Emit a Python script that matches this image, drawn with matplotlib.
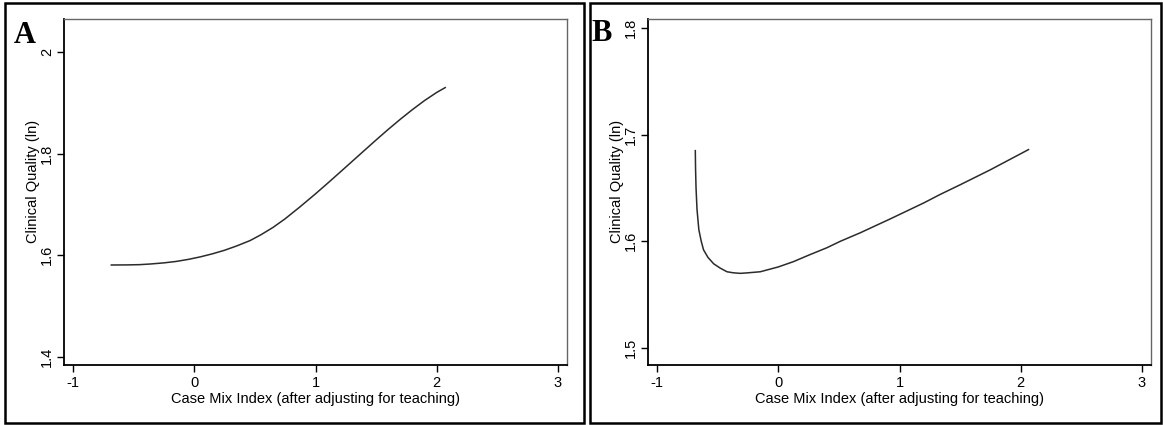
import matplotlib
matplotlib.use("Agg")
import matplotlib.pyplot as plt
from matplotlib.patches import Rectangle

plt.rcParams["font.family"] = ["Liberation Sans", "DejaVu Sans"]

# 曲线数据
CMI_A = [-0.684, -0.55, -0.45, -0.36, -0.25, -0.15, -0.05, 0.05, 0.15, 0.25, 0.35,
         0.46, 0.55, 0.65, 0.75, 0.87, 1.0, 1.1, 1.2, 1.29, 1.4, 1.5, 1.6, 1.7,
         1.8, 1.9, 2.0, 2.07]
QUAL_A = [1.5810, 1.5812, 1.5817, 1.5830, 1.5852, 1.5880, 1.5920, 1.5970, 1.6030, 1.6100, 1.6185,
          1.6290, 1.6405, 1.6550, 1.6720, 1.6950, 1.7210, 1.7418, 1.7630, 1.7822, 1.8057, 1.8270, 1.8478, 1.8678,
          1.8868, 1.9046, 1.9205, 1.9300]

CMI_B = [-0.684, -0.682, -0.678, -0.67, -0.655, -0.635, -0.616, -0.58, -0.533, -0.48,
         -0.423, -0.37, -0.313, -0.25, -0.148, 0.0, 0.126, 0.25, 0.401, 0.511,
         0.676, 0.923, 1.2, 1.336, 1.5, 1.748, 2.064]
QUAL_B = [1.685, 1.668, 1.650, 1.630, 1.611, 1.600, 1.592, 1.585, 1.579, 1.575,
          1.5715, 1.5705, 1.570, 1.5705, 1.5715, 1.576, 1.581, 1.587, 1.594, 1.600,
          1.608, 1.621, 1.636, 1.644, 1.653, 1.667, 1.686]

X_TICKS = [-1, 0, 1, 2, 3]
Y_TICKS_A = [1.4, 1.6, 1.8, 2.0]
Y_TICK_LABELS_A = ["1.4", "1.6", "1.8", "2"]
Y_TICKS_B = [1.5, 1.6, 1.7, 1.8]
Y_TICK_LABELS_B = ["1.5", "1.6", "1.7", "1.8"]

XLABEL = "Case Mix Index (after adjusting for teaching)"
YLABEL = "Clinical Quality (ln)"

W, H = 1163, 425
fig = plt.figure(figsize=(W / 100, H / 100), dpi=100)


def px_box(x0, y0, x1, y1):
    # 像素坐标 -> figure 比例坐标
    return [x0 / W, 1 - y1 / H, (x1 - x0) / W, (y1 - y0) / H]


def draw_panel(rect, xs, ys, ylim, yticks, yticklabels, ylabel_xy, letter, letter_xy):
    ax = fig.add_axes(rect)
    ax.plot(xs, ys, color="#2b2b2b", linewidth=1.1)
    ax.set_xlim(-1.0742, 3.0742)
    ax.set_ylim(*ylim)
    ax.set_xticks(X_TICKS)
    ax.set_xticklabels([str(t) for t in X_TICKS], fontsize=10.5)
    ax.set_yticks(yticks)
    ax.set_yticklabels(yticklabels, fontsize=10.5, rotation=90, va="center")
    ax.tick_params(direction="out", length=5, width=1, pad=3)
    ax.tick_params(axis="y", pad=2)
    ax.set_xlabel(XLABEL, fontsize=10.5, labelpad=1)
    ax.set_ylabel(YLABEL, fontsize=10.5)
    ax.yaxis.set_label_coords(*ylabel_xy)
    for side in ["left", "bottom"]:
        ax.spines[side].set_color("black")
        ax.spines[side].set_linewidth(1.3)
    for side in ["top", "right"]:
        ax.spines[side].set_color("#666666")
        ax.spines[side].set_linewidth(1.0)
    fig.text(letter_xy[0] / W, 1 - letter_xy[1] / H, letter, fontsize=22,
             fontweight="bold", family=["Liberation Serif", "DejaVu Serif"],
             ha="left", va="top")
    return ax


# 外框
fig.patches.append(Rectangle((5 / W, 1 - 423 / H), 579 / W, 420 / H, transform=fig.transFigure,
                             fill=False, edgecolor="black", linewidth=1.8))
fig.patches.append(Rectangle((590 / W, 1 - 423 / H), 571 / W, 420 / H, transform=fig.transFigure,
                             fill=False, edgecolor="black", linewidth=1.8))

draw_panel(px_box(64, 19, 567, 365), CMI_A, QUAL_A, (1.3843, 2.0649),
           Y_TICKS_A, Y_TICK_LABELS_A, (-0.048, 0.53), "A", (14, 21))
draw_panel(px_box(648, 19, 1151, 365), CMI_B, QUAL_B, (1.4841, 1.8084),
           Y_TICKS_B, Y_TICK_LABELS_B, (-0.048, 0.53), "B", (591, 19))

fig.savefig("out.png", dpi=100)
